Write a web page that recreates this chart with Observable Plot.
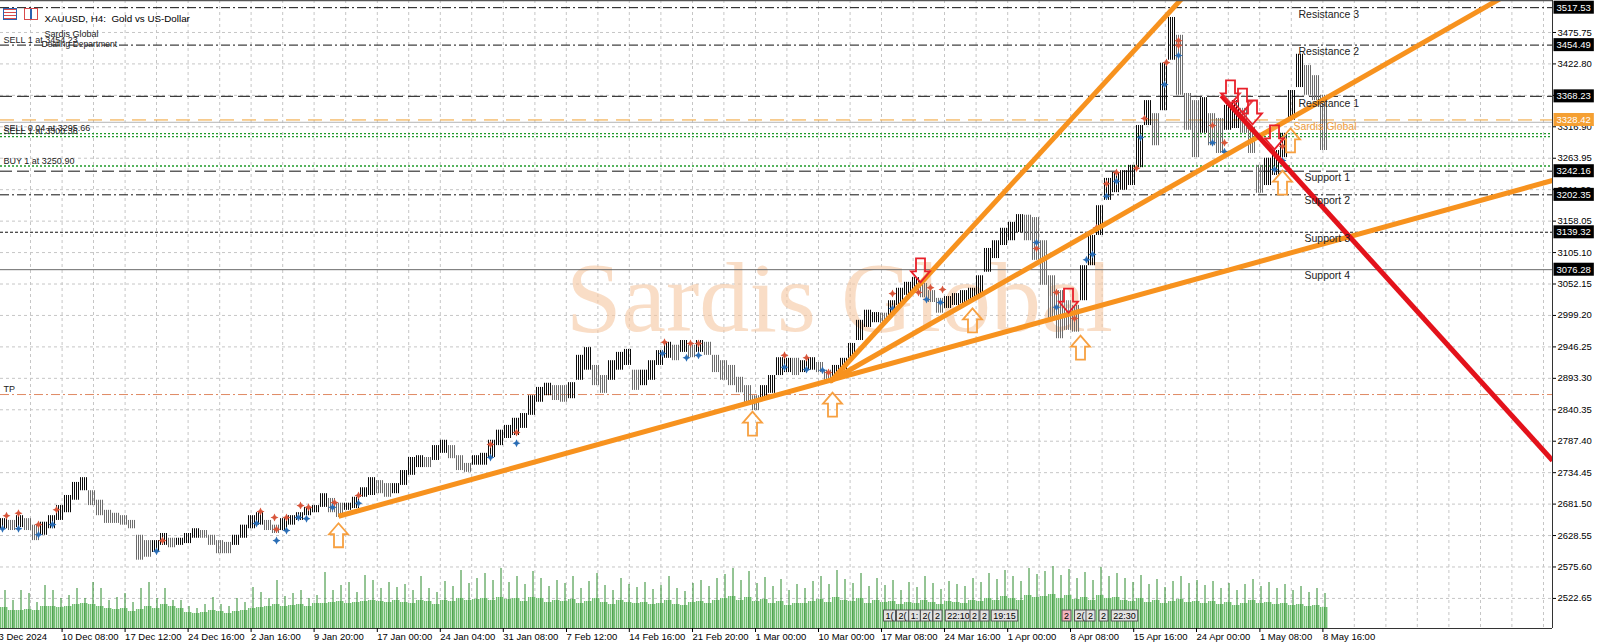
<!DOCTYPE html>
<html>
<head>
<meta charset="utf-8">
<script src="https://cdn.jsdelivr.net/npm/d3@7"></script>
<script src="https://cdn.jsdelivr.net/npm/@observablehq/plot@0.6"></script>
<style>
html,body{margin:0;padding:0;background:#fff;}
#wrap{position:relative;width:1600px;height:644px;overflow:hidden;background:#fff;}
#wrap svg{position:absolute;left:0;top:0;}
.ic{position:absolute;top:8px;width:14px;height:12px;box-sizing:border-box;}
</style>
</head>
<body>
<div id="wrap">
  <div class="ic" style="left:3px;border:1px solid #2b62b0;background:repeating-linear-gradient(#d84a4a 0 1px,#fff 1px 3px);"></div>
  <div class="ic" style="left:24px;border:1px solid #d84a4a;background:linear-gradient(90deg,#fff 0 5px,#2b62b0 5px 7px,#fff 7px);"></div>
</div>
<script>
// ---------- DATA ----------
// H4 price path, one sample per 4 bars: high / low
const hi = [2657,2654,2662,2657,2646,2651,2662,2679,2696,2718,
2726,2704,2688,2671,2666,2662,2654,2629,2620,2620,
2632,2624,2624,2632,2640,2637,2629,2620,2617,2629,
2646,2662,2667,2654,2646,2657,2662,2667,2676,2679,
2699,2691,2683,2683,2693,2709,2726,2721,2716,2716,
2738,2760,2763,2760,2780,2789,2780,2763,2750,2763,
2767,2789,2806,2814,2826,2834,2864,2878,2885,2881,
2881,2886,2932,2945,2915,2898,2923,2937,2942,2907,
2907,2923,2940,2954,2949,2957,2949,2957,2954,2932,
2923,2915,2895,2881,2864,2881,2898,2928,2927,2927,
2923,2928,2920,2907,2915,2927,2952,2991,3008,3004,
3003,3024,3045,3055,3063,3053,3041,3028,3031,3036,
3041,3045,3066,3112,3125,3146,3156,3169,3168,3164,
3125,3066,3041,3024,3016,3083,3134,3184,3230,3240,
3243,3252,3319,3361,3339,3424,3501,3471,3373,3361,
3366,3339,3331,3353,3361,3348,3316,3252,3264,3277,
3306,3378,3439,3420,3403,3370];
const lo = [2640,2637,2642,2637,2620,2629,2640,2654,2667,2688,
2704,2679,2662,2649,2649,2646,2640,2587,2592,2600,
2612,2608,2612,2615,2624,2624,2612,2598,2598,2612,
2624,2640,2646,2637,2632,2637,2646,2654,2662,2667,
2676,2667,2659,2671,2674,2693,2696,2699,2693,2699,
2713,2730,2743,2743,2755,2767,2758,2738,2735,2747,
2747,2760,2780,2792,2797,2809,2831,2853,2864,2856,
2853,2859,2890,2907,2881,2868,2890,2907,2915,2873,
2881,2890,2915,2927,2923,2937,2928,2937,2932,2903,
2890,2881,2869,2848,2839,2856,2868,2898,2903,2898,
2903,2907,2903,2885,2893,2907,2927,2957,2979,2987,
2986,2999,3016,3033,3041,3029,3021,3003,3011,3016,
3019,3024,3033,3072,3095,3117,3125,3139,3125,3092,
3050,2994,2960,2974,2971,3024,3083,3134,3193,3206,
3210,3218,3248,3319,3285,3344,3429,3370,3311,3265,
3306,3285,3272,3311,3314,3306,3272,3205,3218,3235,
3265,3328,3383,3370,3361,3277];

// tick volume per 4-bar group: typical level and largest bar
const volBase = [21,18,18,19,18,22,22,21,22,24,
25,24,22,20,19,20,17,19,22,20,
24,22,20,16,15,16,18,17,15,17,
18,20,21,22,24,22,23,24,22,25,
25,26,27,25,26,27,28,27,26,28,
26,25,28,27,24,28,27,30,28,29,
30,28,31,29,30,27,31,30,26,28,
27,29,25,27,30,26,24,28,26,25,
26,24,25,28,24,23,26,27,25,28,
30,32,28,31,27,29,25,27,23,25,
25,27,29,26,31,28,27,30,25,28,
26,27,24,26,25,28,26,24,27,26,
25,28,27,30,28,32,30,28,33,31,
32,34,30,33,29,31,28,33,30,31,
28,27,30,26,28,25,27,29,26,27,
25,27,24,26,23,25,28,25,26,24,
25,23,24,22,23,21];
const volPeak = [38,28,38,35,26,43,38,30,33,40,
30,46,40,28,31,35,26,40,46,30,
40,28,28,22,20,24,31,24,22,30,
26,41,36,30,48,32,35,38,30,33,
56,38,43,46,36,53,48,40,46,41,
44,38,52,40,36,47,42,58,45,50,
55,48,60,46,52,44,57,50,42,48,
45,52,40,47,55,43,38,50,44,41,
46,39,43,52,40,37,45,48,42,50,
54,60,48,57,45,51,42,49,38,44,
40,47,52,44,58,49,45,55,42,50,
43,48,38,46,41,52,45,39,47,44,
42,50,46,55,49,58,52,47,60,54,
57,62,53,59,50,56,48,61,52,55,
50,46,53,44,49,41,47,52,45,48,
43,47,40,45,38,44,49,42,46,40,
44,38,42,36,40,35];

// indicator markers [bar, price]
const redMarks = [[3,2662],[9,2666],[19,2647],[28,2672],[81,2620],[130,2669],[137,2659],[138,2639],[143,2659],[150,2679],[154,2676],[167,2684],[179,2696],[245,2782],[258,2802],[332,2954],[345,2952],[349,2952],[392,2932],[403,2928],[414,2903],[446,3036],[459,3038],[465,3046],[471,3043],[518,3112],[528,3038],[537,2994],[548,3147],[553,3221],[558,3240],[568,3247],[572,3331],[583,3425],[589,3462],[589,3454],[606,3319],[612,3290],[625,3314],[641,3284]];
const blueMarks = [[1,2640],[9,2640],[19,2630],[26,2647],[78,2602],[128,2649],[138,2620],[143,2637],[149,2659],[153,2657],[166,2676],[179,2683],[245,2760],[258,2784],[331,2935],[343,2928],[349,2932],[392,2912],[403,2908],[411,2907],[446,3011],[463,3026],[470,3021],[518,3122],[528,3013],[543,3093],[546,3102],[553,3200],[558,3225],[570,3299],[582,3388],[589,3437],[606,3290],[612,3275],[637,3245],[641,3260]];

// arrows [bar, price]
const upArrows = [[169,2629],[376,2817],[416,2849],[486,2991],[540,2945],[641,3223],[645,3294]];
const downArrows = [[460,3075],[534,3024],[615,3375],[621,3361],[626,3341],[637,3299]];

// trend lines [bar1, price1, bar2, price2]
const orangeLines = [[169,2661,776,3226.5],[414.5,2888,776,3583],[415,2888,600,3567]];
const redLines = [[610.5,3369.6,776,2755]];

// horizontal levels
const levelNames = ["Resistance 3","Resistance 2","Resistance 1","Support 1","Support 2","Support 3","Support 4"];
const levelPrices = [3517.53,3454.49,3368.23,3242.16,3202.35,3139.32,3076.28];
const bidPrice = 3328.42;
const askPrice = 3324.5;
const brandName = "Sardis Global";
const orderTexts = ["SELL 1 at 3454.23","SELL 0.04 at 3295.66","SELL 1 at 3300.36","BUY 1 at 3250.90","TP"];
const orderPrices = [3454.23,3305.5,3300.4,3250.90,2866];

// axes
const priceTicks = [2522.65,2575.60,2628.55,2681.50,2734.45,2787.40,2840.35,2893.30,2946.25,2999.20,3052.15,3105.10,3158.05,3211.00,3263.95,3316.90,3369.85,3422.80,3475.75];
const xTickLabels = ["3 Dec 2024","10 Dec 08:00","17 Dec 12:00","24 Dec 16:00","2 Jan 16:00","9 Jan 20:00","17 Jan 00:00","24 Jan 04:00","31 Jan 08:00","7 Feb 12:00","14 Feb 16:00","21 Feb 20:00","1 Mar 00:00","10 Mar 00:00","17 Mar 08:00","24 Mar 16:00","1 Apr 00:00","8 Apr 08:00","15 Apr 16:00","24 Apr 00:00","1 May 08:00","8 May 16:00"];
const xTickBars = [-1,30.8,62.3,93.8,125.3,156.8,188.4,219.9,251.4,283,314.4,346,377.5,409,440.5,472,503.6,535,566.6,598,629.7,661.2];
const gridBars = [15,30.8,46.5,62.3,78,93.8,109.6,125.3,141.1,156.8,172.6,188.4,204.1,219.9,235.6,251.4,267.2,282.9,298.7,314.4,330.2,346,361.7,377.5,393.2,409,424.8,440.5,456.3,472,487.8,503.6,519.3,535.1,550.8,566.6,582.4,598.1,613.9,629.6,645.4,661.2,676.9,692.7,708.4,724.2,740,755.7,771.5];

// trade history boxes on the time axis
const tradeLabels = ["1(","2(","1:","2(","2","22:10","2","2","19:15","2","2(","2","2","22:30"];
const tradeBars = [444.5,451,457,463,468.5,479,487,492,502,533,540,545,551.5,562];
const tradeSide = ["b","b","b","b","b","b","b","b","b","s","b","b","b","b"];

// ---------- BUILD ----------
const W = 1600, H = 644;
const barsPerSample = 4;
const xDomain = [0, 776];
const yDomain = [2472.0, 3529.6];

const samples = hi.map((h, i) => ({
  t1: i * barsPerSample, t2: (i + 1) * barsPerSample, hi: h, lo: lo[i],
  up: i === 0 ? true : (h + lo[i]) >= (hi[i - 1] + lo[i - 1])
}));
const vols = volBase.map((v, i) => ({t1: i * barsPerSample, t2: (i + 1) * barsPerSample, tm: i * barsPerSample + barsPerSample / 2, base: v, peak: volPeak[i]}));
const levels = levelNames.map((n, i) => ({name: n, price: levelPrices[i]}));
const orders = orderTexts.map((t, i) => ({text: t, price: orderPrices[i]}));
const toPt = a => ({t: a[0], p: a[1]});
const toLn = a => ({t1: a[0], p1: a[1], t2: a[2], p2: a[3]});
const trades = tradeLabels.map((l, i) => ({label: l, t: tradeBars[i], side: tradeSide[i]}));
const xLabelMap = new Map(xTickBars.map((b, i) => [b, xTickLabels[i]]));

const dashStyle = {
  "Resistance 3": "9,3,2,3", "Resistance 2": "9,3,2,3", "Support 2": "9,3,2,3",
  "Resistance 1": "12,5", "Support 1": "12,5", "Support 3": "3,2"
};
const byStyle = s => levels.filter(d => dashStyle[d.name] === s);

const arrowUp = {draw(c){c.moveTo(0,-12);c.lineTo(9.5,-1);c.lineTo(4.5,-1);c.lineTo(4.5,12);c.lineTo(-4.5,12);c.lineTo(-4.5,-1);c.lineTo(-9.5,-1);c.closePath();}};
const arrowDown = {draw(c){c.moveTo(0,12);c.lineTo(9.5,1);c.lineTo(4.5,1);c.lineTo(4.5,-12);c.lineTo(-4.5,-12);c.lineTo(-4.5,1);c.lineTo(-9.5,1);c.closePath();}};
const star4 = {draw(c){c.moveTo(0,-4);c.lineTo(1.3,-1.3);c.lineTo(4,0);c.lineTo(1.3,1.3);c.lineTo(0,4);c.lineTo(-1.3,1.3);c.lineTo(-4,0);c.lineTo(-1.3,-1.3);c.closePath();}};

const font = "'Liberation Sans', Arial, sans-serif";
const main = Plot.plot({
  width: W, height: H,
  marginLeft: 0, marginRight: 48, marginTop: 0, marginBottom: 16,
  x: {domain: xDomain},
  y: {domain: yDomain},
  style: {fontFamily: font, fontSize: "9.5px", background: "#fff", color: "#000", overflow: "visible"},
  marks: [
    Plot.gridY(priceTicks, {stroke: "#c6c6c6", strokeOpacity: 1, strokeDasharray: "3,3"}),
    Plot.gridX(gridBars, {stroke: "#c6c6c6", strokeOpacity: 1, strokeDasharray: "3,3"}),
    Plot.text([brandName], {frameAnchor: "middle", dx: 63, dy: -16, fontSize: 100, fontFamily: "'Liberation Serif', 'Times New Roman', serif", fill: "#f5c7a0", fillOpacity: 0.6}),
    // level lines
    Plot.ruleY(byStyle("9,3,2,3"), {y: "price", stroke: "#111", strokeDasharray: "9,3,2,3"}),
    Plot.ruleY(byStyle("12,5"), {y: "price", stroke: "#111", strokeDasharray: "12,5"}),
    Plot.ruleY(byStyle("3,2"), {y: "price", stroke: "#111", strokeDasharray: "3,2"}),
    Plot.ruleY(levels.filter(d => !dashStyle[d.name]), {y: "price", stroke: "#6a6a6a"}),
    Plot.ruleY([askPrice], {stroke: "#b4b4b4"}),
    Plot.ruleY([bidPrice], {stroke: "#f0a030", strokeDasharray: "14,8"}),
    Plot.ruleY(orders.filter(d => d.text.startsWith("SELL 0") || d.text.startsWith("SELL 1 at 33") || d.text.startsWith("BUY")), {y: "price", stroke: "#1f9a2a", strokeWidth: 1.3, strokeDasharray: "2,2"}),
    Plot.ruleY(orders.filter(d => d.text === "TP"), {y: "price", stroke: "#df8a64", strokeDasharray: "9,3,2,3"}),
    // candles
    Plot.rect(samples.filter(d => !d.up), {x1: "t1", x2: "t2", y1: "lo", y2: "hi", fill: "url(#barDn)"}),
    Plot.rect(samples.filter(d => d.up), {x1: "t1", x2: "t2", y1: "lo", y2: "hi", fill: "url(#barUp)"}),
    // indicator markers
    Plot.dot(redMarks.map(toPt), {x: "t", y: "p", symbol: star4, fill: "#d8553a", stroke: null}),
    Plot.dot(blueMarks.map(toPt), {x: "t", y: "p", symbol: star4, fill: "#2a6db5", stroke: null}),
    // trend lines
    Plot.link(orangeLines.map(toLn), {x1: "t1", y1: "p1", x2: "t2", y2: "p2", stroke: "#f7921e", strokeWidth: 5, clip: true}),
    Plot.link(redLines.map(toLn), {x1: "t1", y1: "p1", x2: "t2", y2: "p2", stroke: "#e3121b", strokeWidth: 5, clip: true}),
    // arrows
    Plot.dot(upArrows.map(toPt), {x: "t", y: "p", symbol: arrowUp, fill: "#fff", fillOpacity: 0.15, stroke: "#f7a040", strokeWidth: 1.8}),
    Plot.dot(downArrows.map(toPt), {x: "t", y: "p", symbol: arrowDown, fill: "#fff", fillOpacity: 0.15, stroke: "#e8202a", strokeWidth: 1.8}),
    // level names
    Plot.text(levels.filter(d => d.name.startsWith("R")), {x: () => 649, y: "price", text: "name", dy: 7, textAnchor: "start", fontSize: 10.5, fill: "#222"}),
    Plot.text(levels.filter(d => d.name.startsWith("S")), {x: () => 652, y: "price", text: "name", dy: 6, textAnchor: "start", fontSize: 10.5, fill: "#222"}),
    Plot.text([brandName], {x: () => 646.5, y: () => bidPrice, dy: 7, textAnchor: "start", fontSize: 10.5, fill: "#f0a040"}),
    // order texts on the left
    Plot.text(orders, {y: "price", text: "text", frameAnchor: "left", dx: 3, dy: -5, textAnchor: "start", fontSize: 9, fill: "#222"}),
    // header
    Plot.text(["XAUUSD, H4:\u00a0 Gold vs US-Dollar"], {frameAnchor: "top-left", dx: 44, dy: 15, textAnchor: "start", fontSize: 9.8, fill: "#000"}),
    Plot.text([brandName], {frameAnchor: "top-left", dx: 44, dy: 30, fontSize: 9, fill: "#222"}),
    Plot.text(["Dealing Department"], {frameAnchor: "top-left", dx: 41, dy: 40, fontSize: 8.5, fill: "#222"}),
    // frame
    Plot.ruleY([yDomain[1]], {stroke: "#555", strokeWidth: 1.5}),
    Plot.ruleY([yDomain[0]], {stroke: "#333"}),
    Plot.ruleX([xDomain[1]], {stroke: "#333"}),
    // axes
    Plot.axisY({ticks: priceTicks, anchor: "right", tickSize: 3, tickPadding: 2, tickFormat: d => d.toFixed(2), label: null, fontSize: 9.5}),
    Plot.axisX({ticks: xTickBars, anchor: "bottom", tickSize: 4, tickPadding: 1, tickFormat: d => xLabelMap.get(d), textAnchor: "start", label: null, fontSize: 9.5}),
    // price boxes
    Plot.text(levels, {y: "price", text: d => d.price.toFixed(2), frameAnchor: "right", dx: 4, textAnchor: "start", fontSize: 9.5, fill: "#fffffe"}),
    Plot.text([bidPrice], {y: d => d, text: d => d.toFixed(2), frameAnchor: "right", dx: 4, textAnchor: "start", fontSize: 9.5, fill: "#fffffd"})
  ]
});

const vol = Plot.plot({
  width: W, height: H,
  marginLeft: 0, marginRight: 48, marginTop: 528, marginBottom: 16,
  x: {domain: xDomain, axis: null},
  y: {domain: [0, 100], axis: null},
  style: {fontFamily: font, fontSize: "9px", background: "transparent", overflow: "visible"},
  marks: [
    Plot.rect(vols, {x1: "t1", x2: "t2", y1: 0, y2: "base", fill: "url(#volStripe)"}),
    Plot.ruleX(vols, {x: "tm", y1: 0, y2: "peak", stroke: "#2b8a2b", strokeWidth: 1, dx: 0.5}),
    Plot.text(trades.filter(d => d.side === "b"), {x: "t", text: "label", frameAnchor: "bottom", dy: -10, fontSize: 9, fill: "#010101"}),
    Plot.text(trades.filter(d => d.side === "s"), {x: "t", text: "label", frameAnchor: "bottom", dy: -10, fontSize: 9, fill: "#010102"})
  ]
});

const wrap = document.getElementById("wrap");
wrap.insertBefore(main, wrap.firstChild);
wrap.insertBefore(vol, main.nextSibling);

const ns = "http://www.w3.org/2000/svg";
function addDefs(svg, html) {
  const d = document.createElementNS(ns, "defs");
  d.innerHTML = html;
  svg.insertBefore(d, svg.firstChild);
}
addDefs(main, `
 <pattern id="barUp" patternUnits="userSpaceOnUse" width="2" height="4"><rect x="0" y="0" width="1" height="4" fill="#0a0a0a"/></pattern>
 <pattern id="barDn" patternUnits="userSpaceOnUse" width="2" height="4"><rect x="0" y="0" width="1" height="4" fill="#6c6c6c"/></pattern>`);
addDefs(vol, `
 <pattern id="volStripe" patternUnits="userSpaceOnUse" width="2" height="4"><rect x="0" y="0" width="1" height="4" fill="#72bf72"/><rect x="1" y="0" width="1" height="4" fill="#c4e6c4"/></pattern>`);

function boxes(svg, textFill, boxFill, boxStroke, padX, h, newTextFill) {
  svg.querySelectorAll(`g[fill="${textFill}"] text`).forEach(t => {
    const b = t.getBBox();
    const r = document.createElementNS(ns, "rect");
    const cy = b.y + b.height / 2;
    r.setAttribute("x", b.x - padX);
    r.setAttribute("width", b.width + 2 * padX);
    r.setAttribute("y", cy - h / 2);
    r.setAttribute("height", h);
    r.setAttribute("fill", boxFill);
    if (boxStroke) r.setAttribute("stroke", boxStroke);
    const tr = t.getAttribute("transform");
    if (tr) r.setAttribute("transform", tr);
    t.parentNode.insertBefore(r, t);
    if (newTextFill) t.setAttribute("fill", newTextFill);
  });
}
boxes(main, "#fffffe", "#000", null, 3, 13, "#fff");
boxes(main, "#fffffd", "#f5a033", null, 3, 13, "#fff");
boxes(vol, "#010101", "#e2e2e2", "#555", 2, 11, "#000");
boxes(vol, "#010102", "#f2b3bd", "#555", 2, 11, "#000");
</script>
</body>
</html>
